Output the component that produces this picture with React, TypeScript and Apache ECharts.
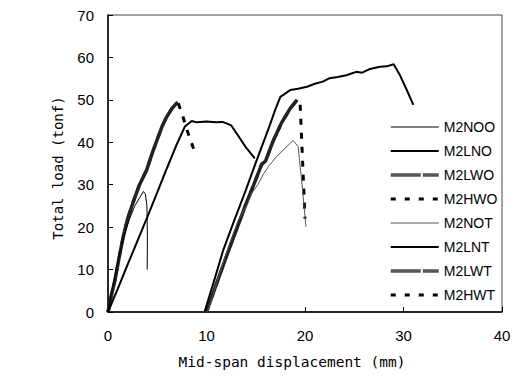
import React, { useEffect, useRef } from "react";
import * as echarts from "echarts";

const seriesNames = ["M2NOO", "M2LNO", "M2LWO", "M2HWO", "M2NOT", "M2LNT", "M2LWT", "M2HWT"];
const xTicks = [0, 10, 20, 30, 40];
const yTicks = [0, 10, 20, 30, 40, 50, 60, 70];

const m2noo = [[0,0],[0.3,4],[0.7,8.5],[1.2,14],[1.7,18.5],[2.2,22],[2.7,24.9],[3.2,26.9],[3.6,28.4],[3.8,27.8],[3.95,25],[4.0,18],[3.98,10]];
const m2lno = [[0,0],[1,5.5],[2,11.2],[3,16.8],[4,22.4],[5,28.2],[6,34],[7,39.6],[7.8,43.7],[8.5,45],[9,44.7],[10,44.9],[11,44.7],[11.6,44.8],[12.1,44.4],[12.5,44],[13.2,41.6],[14,38.8],[14.9,36.2]];
const m2lwo = [[0,0],[0.35,4],[0.71,7.5],[1.1,12.5],[1.55,17.8],[2.0,22],[2.57,26],[3.2,30],[3.93,33.5],[4.5,37.5],[5.1,41.3],[5.5,43.8],[5.96,46],[6.5,48],[6.97,49.2],[7.1,49.4]];
const m2hwo = [[0,0],[0.35,4],[0.71,7.5],[1.1,12.5],[1.55,17.8],[2.0,22],[2.57,26],[3.2,30],[3.93,33.5],[4.5,37.5],[5.1,41.3],[5.5,43.8],[5.96,46],[6.5,48],[6.97,49.2],[7.1,49.4],[7.5,46.8],[8.26,41.2],[8.8,37.8]];
const m2not = [[10.1,0],[10.8,5],[11.6,11],[12.4,16.5],[13.2,21.5],[14.1,25.2],[14.6,28],[15.2,30],[15.8,32.6],[16.4,34.6],[17.1,36.6],[17.8,38.2],[18.5,39.8],[18.8,40.4],[19.3,39],[19.7,30],[20.1,20.1]];
const m2lnt = [[9.8,0],[10.7,6.8],[11.7,14.6],[12.8,21.5],[14,28.8],[15.1,35.8],[16.3,43.2],[17,47.8],[17.5,50.7],[18.5,52.3],[19.3,52.6],[20.2,53.1],[21,53.8],[21.8,54.3],[22.5,55.1],[23.3,55.4],[24.2,55.8],[25.2,56.6],[25.8,56.4],[26.5,57.2],[27.6,57.8],[28.3,57.9],[29,58.4],[29.6,56],[30.3,52.5],[31,48.8]];
const m2lwt = [[10,0],[11,6.5],[12,13],[13,19.2],[13.9,24.8],[14.8,30],[15.6,34.8],[16,35.6],[16.8,40.5],[17.6,44.5],[18.5,48],[19.2,50]];
const m2hwt = [[10,0],[11,6.5],[12,13],[13,19.2],[13.9,24.8],[14.8,30],[15.6,34.8],[16,35.6],[16.8,40.5],[17.6,44.5],[18.5,48],[19.2,50],[19.5,49.2],[19.6,44],[19.8,33],[20,22]];

const seriesData = [m2noo, m2lno, m2lwo, m2hwo, m2not, m2lnt, m2lwt, m2hwt];
const seriesStyles: any[] = [
  { color: "#000", width: 1, type: "solid" },
  { color: "#000", width: 2, type: "solid" },
  { color: "#222", width: 3.5, type: "solid" },
  { color: "#000", width: 3, type: [6, 8] },
  { color: "#555", width: 1, type: "solid" },
  { color: "#000", width: 2, type: "solid" },
  { color: "#222", width: 3.5, type: "solid" },
  { color: "#000", width: 3, type: [6, 8] },
];
const legendStyles: any[] = [
  { color: "#000", width: 1, type: "solid" },
  { color: "#000", width: 2, type: "solid" },
  { color: "#555", width: 3.5, type: [30, 2] },
  { color: "#000", width: 3, type: [5, 9] },
  { color: "#555", width: 1, type: "solid" },
  { color: "#000", width: 2, type: "solid" },
  { color: "#555", width: 3.5, type: [30, 2] },
  { color: "#000", width: 3, type: [5, 9] },
];
const seriesZ = [5, 4, 3, 2, 5, 4, 3, 2];

export default function App() {
  const ref = useRef<HTMLDivElement>(null);
  useEffect(() => {
    const chart = echarts.init(ref.current!, null, { renderer: "svg" });
    chart.setOption({
      animation: false,
      grid: { left: 108, top: 15, right: 15, bottom: 68, show: true, borderColor: "#444", borderWidth: 1 },
      xAxis: {
        type: "value", min: xTicks[0], max: xTicks[xTicks.length - 1], interval: 10,
        axisLine: { lineStyle: { color: "#000", width: 1.5 } },
        axisTick: { inside: true, length: 5, lineStyle: { color: "#000" } },
        splitLine: { show: false },
        axisLabel: { margin: 16, fontSize: 15, color: "#000", fontFamily: "Liberation Sans" },
      },
      yAxis: {
        type: "value", min: yTicks[0], max: yTicks[yTicks.length - 1], interval: 10,
        axisLine: { show: true, lineStyle: { color: "#000", width: 1.5 } },
        axisTick: { show: true, inside: true, length: 5, lineStyle: { color: "#000" } },
        splitLine: { show: false },
        axisLabel: { margin: 14, fontSize: 15, color: "#000", fontFamily: "Liberation Sans" },
      },
      legend: {
        orient: "vertical", left: 389, top: 120, padding: 0, itemWidth: 48, itemHeight: 14, itemGap: 10,
        itemStyle: { opacity: 0 },
        textStyle: { fontSize: 14, color: "#000", fontFamily: "Liberation Sans" },
        data: seriesNames.map((n, i) => ({ name: n, lineStyle: legendStyles[i] })),
      },
      graphic: [
        { type: "text", x: 292, y: 362, style: { text: "Mid-span displacement (mm)", align: "center", verticalAlign: "middle", fontSize: 14.5, fontFamily: "DejaVu Sans Mono", fill: "#000" } },
        { type: "text", x: 58, y: 168, rotation: Math.PI / 2, style: { text: "Total load (tonf)", align: "center", verticalAlign: "middle", fontSize: 14, fontFamily: "DejaVu Sans Mono", fill: "#000" } },
      ],
      series: seriesNames.map((n, i) => ({
        name: n, type: "line", data: seriesData[i], symbol: "none", showSymbol: false, z: seriesZ[i],
        lineStyle: seriesStyles[i], itemStyle: { color: seriesStyles[i].color },
      })),
    });
    return () => chart.dispose();
  }, []);
  return <div ref={ref} style={{ position: "absolute", left: 0, top: 0, width: 517, height: 380 }} />;
}
